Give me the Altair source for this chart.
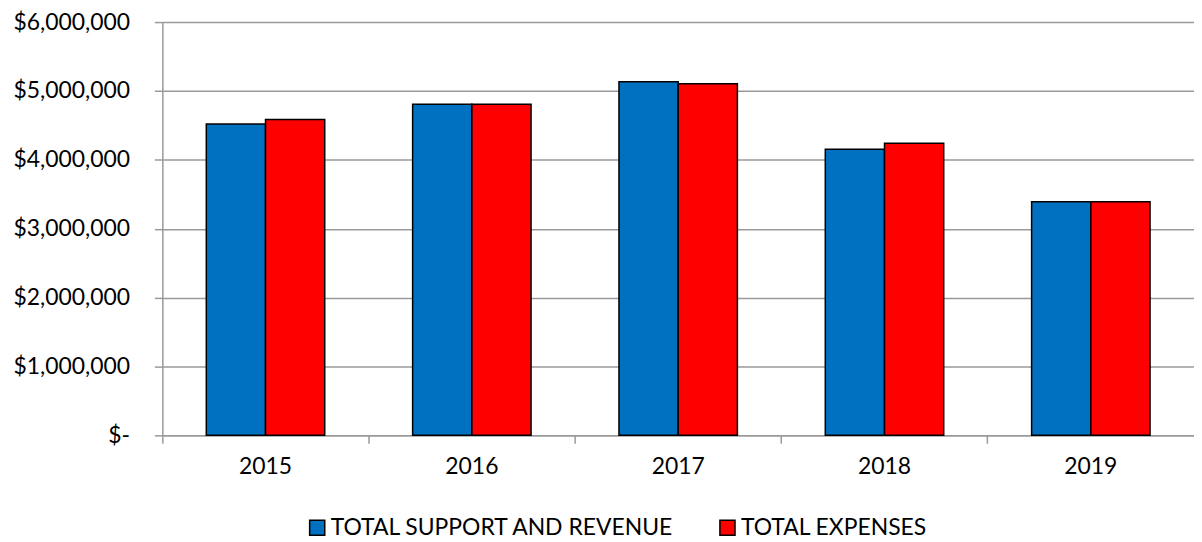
import altair as alt
import pandas as pd

years = ["2015", "2016", "2017", "2018", "2019"]
support = [4520000, 4807000, 5135000, 4154000, 3390000]
expenses = [4587000, 4807000, 5106000, 4240000, 3390000]
series = ["TOTAL SUPPORT AND REVENUE", "TOTAL EXPENSES"]
colors = ["#0070C0", "#FF0000"]

rows = []
for y, s, e in zip(years, support, expenses):
    rows.append({"year": y, "series": series[0], "value": s})
    rows.append({"year": y, "series": series[1], "value": e})
df = pd.DataFrame(rows)

FONT = "Lato"
W = 1036
H = 415
P_IN = 0.426
STEP = W / 5
BAND = STEP * (1 - P_IN)
TICK_POS = -(P_IN / 2) * STEP / BAND

chart = alt.Chart(df).mark_bar(stroke="#000000", strokeWidth=1.5).encode(
    x=alt.X("year:N", sort=years, title=None,
            scale=alt.Scale(paddingInner=P_IN, paddingOuter=P_IN / 2),
            axis=alt.Axis(labelAngle=0, bandPosition=TICK_POS,
                          ticks=True, tickSize=8, tickColor="#9A9A9A", tickWidth=1.5,
                          domainColor="#9A9A9A", domainWidth=1.5,
                          labelPadding=12, labelFontSize=23, labelFont=FONT,
                          labelColor="#000000", grid=False)),
    xOffset=alt.XOffset("series:N", sort=series),
    y=alt.Y("value:Q", title=None,
            scale=alt.Scale(domain=[0, 6000000], nice=False),
            axis=alt.Axis(values=[0, 1000000, 2000000, 3000000, 4000000, 5000000, 6000000],
                          labelExpr="datum.value == 0 ? '$-\u00a0\u00a0\u00a0' : '$' + format(datum.value, ',.0f')",
                          tickSize=8, tickColor="#9A9A9A", tickWidth=1.5,
                          domainColor="#9A9A9A", domainWidth=1.5,
                          gridColor="#9A9A9A", gridWidth=1.5,
                          labelPadding=25, labelFontSize=23, labelFont=FONT,
                          labelColor="#000000")),
    color=alt.Color("series:N", sort=series,
                    scale=alt.Scale(domain=series, range=colors),
                    legend=alt.Legend(title=None, orient="none", direction="horizontal",
                                      legendX=144, legendY=496,
                                      symbolType="square", symbolSize=230,
                                      symbolStrokeColor="#000000", symbolStrokeWidth=1.5,
                                      labelFontSize=23, labelFont=FONT, labelColor="#000000",
                                      labelLimit=600,
                                      labelOffset=2, columnPadding=41)),
).properties(
    width=W, height=H,
    autosize=alt.AutoSizeParams(type="none"),
    padding={"left": 155, "top": 13, "right": 0, "bottom": 106},
).configure_view(strokeWidth=0)

chart.save("out.html", embed_options={"renderer": "svg", "actions": False})
